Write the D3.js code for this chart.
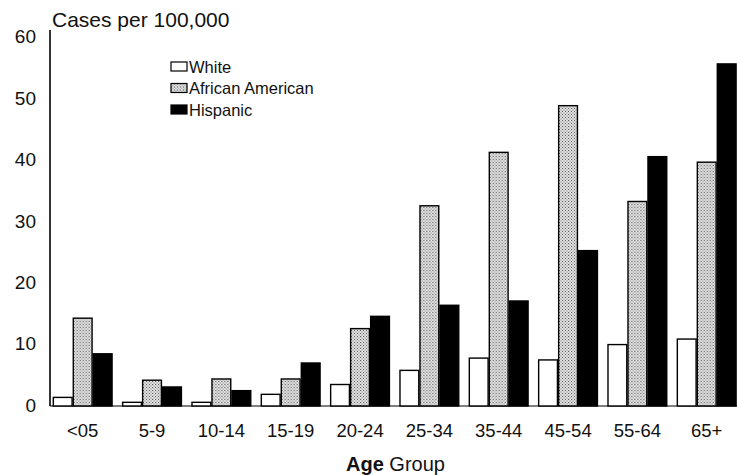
<!DOCTYPE html>
<meta charset="utf-8">
<html>
<head>
<title>Cases per 100,000 by Age Group</title>
<style>
  body { margin: 0; background: white; }
  text { font-family: "Liberation Sans", Arial, sans-serif; fill: #111; }
</style>
</head>
<body>
<div id="chart"></div>
<script src="https://d3js.org/d3.v7.min.js"></script>
<script>

var ages = ["<05", "5-9", "10-14", "15-19", "20-24", "25-34", "35-44", "45-54", "55-64", "65+"];
var groups = ["White", "African American", "Hispanic"];
var white = [1.4, 0.6, 0.6, 1.9, 3.5, 5.8, 7.8, 7.5, 10.0, 10.9];
var african = [14.3, 4.2, 4.4, 4.4, 12.6, 32.6, 41.3, 48.9, 33.3, 39.7];
var hispanic = [8.5, 3.1, 2.5, 7.0, 14.6, 16.4, 17.1, 25.3, 40.6, 55.7];
var yTicks = [0, 10, 20, 30, 40, 50, 60];

var series = [white, african, hispanic];

var width = 737, height = 475;

var svg = d3.select("#chart")
  .append("svg")
    .attr("width", width)
    .attr("height", height);

// stipple fill for the African American bars
var defs = svg.append("defs");
var pat = defs.append("pattern")
    .attr("id", "dots")
    .attr("patternUnits", "userSpaceOnUse")
    .attr("width", 3)
    .attr("height", 3);
pat.append("rect").attr("width", 3).attr("height", 3).attr("fill", "#e4e4e4");
pat.append("rect").attr("x", 0).attr("y", 0).attr("width", 1).attr("height", 1).attr("fill", "#555");
pat.append("rect").attr("x", 1.5).attr("y", 1.5).attr("width", 1).attr("height", 1).attr("fill", "#666");

var fills = ["white", "url(#dots)", "black"];

var y = d3.scaleLinear()
  .domain([0, 60])
  .range([406, 37.5]);

var x0 = d3.scaleBand()
  .domain(ages)
  .range([52.7, 736.7])
  .paddingInner(0.135)
  .paddingOuter(0);

var x1 = d3.scaleBand()
  .domain(d3.range(groups.length))
  .range([0, x0.bandwidth()]);

// y axis
var yAxis = svg.append("g")
  .attr("transform", "translate(50,0)")
  .call(d3.axisLeft(y).tickValues(yTicks).tickSize(0).tickPadding(14));
yAxis.select(".domain").remove();
yAxis.selectAll("text")
  .style("font-size", "19px")
  .attr("dy", "0.28em");

svg.append("line")
  .attr("x1", 50).attr("x2", 50)
  .attr("y1", 30).attr("y2", y(0))
  .attr("stroke", "black")
  .attr("stroke-width", 1.6);

// baseline
svg.append("line")
  .attr("x1", 50).attr("x2", 737)
  .attr("y1", y(0)).attr("y2", y(0))
  .attr("stroke", "black")
  .attr("stroke-width", 1.2);

// bars
var g = svg.append("g").selectAll("g")
  .data(ages)
  .enter().append("g")
    .attr("transform", function(d) { return "translate(" + x0(d) + ",0)"; });

g.selectAll("rect")
  .data(function(d, i) { return series.map(function(s, k) { return {k: k, v: s[i]}; }); })
  .enter().append("rect")
    .attr("x", function(d) { return x1(d.k) + 0.6; })
    .attr("width", x1.bandwidth() - 1.2)
    .attr("y", function(d) { return y(d.v); })
    .attr("height", function(d) { return y(0) - y(d.v); })
    .attr("fill", function(d) { return fills[d.k]; })
    .attr("stroke", "black")
    .attr("stroke-width", 1.4);

// x axis labels
var xAxis = svg.append("g")
  .attr("transform", "translate(0," + y(0) + ")")
  .call(d3.axisBottom(x0).tickSize(0).tickPadding(18));
xAxis.select(".domain").remove();
xAxis.selectAll("text")
  .style("font-size", "18.5px");

// titles
svg.append("text")
  .attr("x", 52)
  .attr("y", 26.5)
  .style("font-size", "21px")
  .text("Cases per 100,000");

var xt = svg.append("text")
  .attr("x", 395.5)
  .attr("y", 470.5)
  .attr("text-anchor", "middle")
  .style("font-size", "20px");
xt.append("tspan").style("font-weight", "bold").text("Age");
xt.append("tspan").text(" Group");

// legend
var legend = svg.append("g")
  .attr("transform", "translate(171,62)")
  .selectAll("g")
  .data(groups)
  .enter().append("g")
    .attr("transform", function(d, i) { return "translate(0," + (i * 21.5) + ")"; });

legend.append("rect")
  .attr("width", 16)
  .attr("height", 9)
  .attr("fill", function(d, i) { return fills[i]; })
  .attr("stroke", "black")
  .attr("stroke-width", 1.2);

legend.append("text")
  .attr("x", 18)
  .attr("y", 10.5)
  .style("font-size", "16.5px")
  .text(function(d) { return d; });

</script>
</body>
</html>
